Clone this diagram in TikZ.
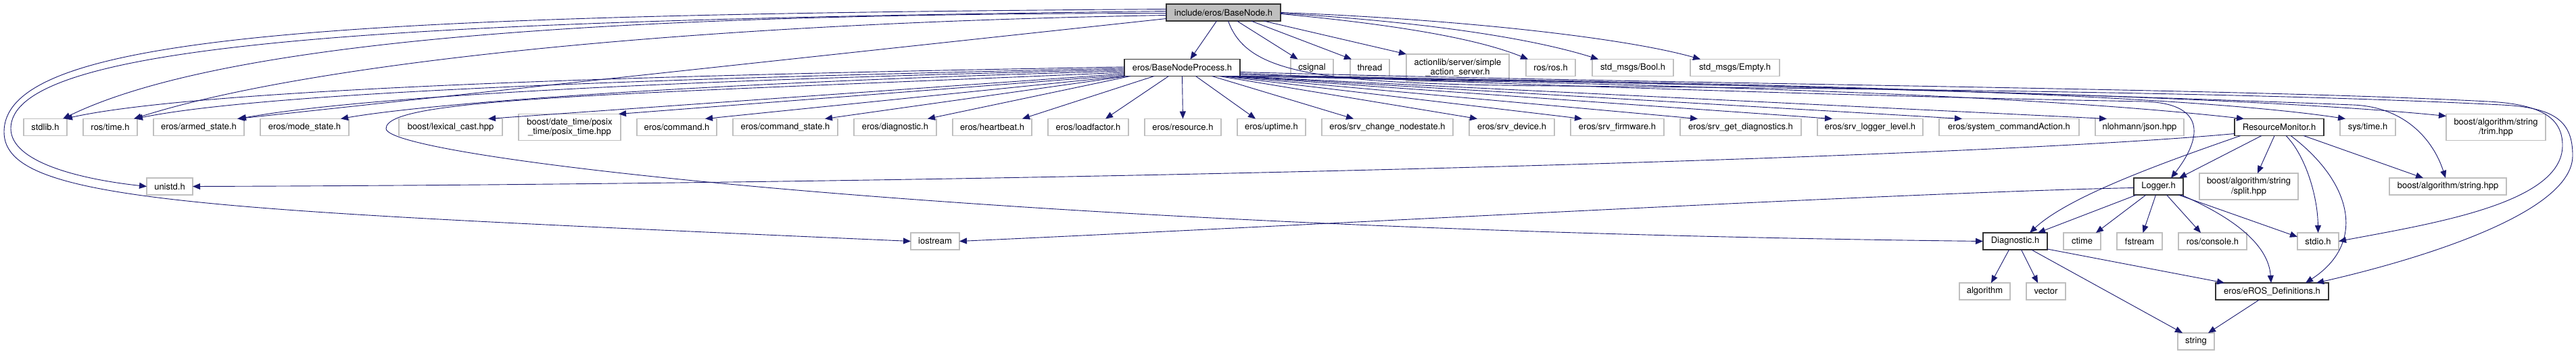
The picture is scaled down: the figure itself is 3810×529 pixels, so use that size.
\documentclass[tikz,border=0pt]{standalone}
\usepackage{fontspec}
\setmainfont{TeX Gyre Heros}
\usepackage{xcolor}
\usepackage{tikz}
\usetikzlibrary{arrows.meta,positioning}
\definecolor{midnightblue}{HTML}{191970}
\definecolor{grey75}{HTML}{BFBFBF}

\begin{document}
\begin{tikzpicture}[x=1pt, y=-1pt, node distance=24pt,
    hdr/.style={rectangle, draw=grey75, line width=1.2pt, fill=white, minimum height=25pt, inner xsep=0pt, inner ysep=0pt, outer sep=0pt, align=center, font=\fontsize{13}{14.5}\selectfont},
    docfile/.style={hdr, draw=black!80, line width=1.4pt},
    rootfile/.style={docfile, fill=grey75},
    arrow/.style={draw=midnightblue, line width=0.9pt, -{Triangle[length=11pt, width=9pt]}}
]
    \path[use as bounding box, fill=white] (0,0) rectangle (3810,529);

    % Nodes (top)
    \node[rootfile, minimum width=169pt] (base) at (1809.5,18.5) {include/eros/BaseNode.h};
    \node[docfile, minimum width=171pt] (proc) at (1748.5,100) {eros/BaseNodeProcess.h};
    \node[hdr, minimum width=63pt, right=75pt of proc] (csig) {csignal};
    \node[hdr, minimum width=58pt, right=25pt of csig] (thrd) {thread};
    \node[hdr, minimum width=152pt, minimum height=40pt, right=25pt of thrd] (actsrv) {actionlib/server/simple\\\_action\_server.h};
    \node[hdr, minimum width=73pt, right=25pt of actsrv] (rosros) {ros/ros.h};
    \node[hdr, minimum width=120pt, right=25pt of rosros] (boolh) {std\_msgs/Bool.h};
    \node[hdr, minimum width=132pt, right=25pt of boolh] (emptyh) {std\_msgs/Empty.h};

    % Nodes (headers of BaseNodeProcess)
    \node[hdr, minimum width=64pt] (stdlib) at (67,188) {stdlib.h};
    \node[hdr, minimum width=80pt, right=of stdlib] (rostime) {ros/time.h};
    \node[hdr, minimum width=134pt, right=of rostime] (armed) {eros/armed\_state.h};
    \node[hdr, minimum width=131pt, right=of armed] (mode) {eros/mode\_state.h};
    \node[hdr, minimum width=153pt, right=74pt of mode] (lexical) {boost/lexical\_cast.hpp};
    \node[hdr, minimum width=151pt, minimum height=39pt, right=of lexical] (posix) {boost/date\_time/posix\\\_time/posix\_time.hpp};
    \node[hdr, minimum width=118pt, right=of posix] (command) {eros/command.h};
    \node[hdr, minimum width=155pt, right=of command] (cmdstate) {eros/command\_state.h};
    \node[hdr, minimum width=122pt, right=of cmdstate] (diag) {eros/diagnostic.h};
    \node[hdr, minimum width=117pt, right=of diag] (heartb) {eros/heartbeat.h};
    \node[hdr, minimum width=119pt, right=of heartb] (loadf) {eros/loadfactor.h};
    \node[hdr, minimum width=113pt, right=of loadf] (resrc) {eros/resource.h};
    \node[hdr, minimum width=101pt, right=of resrc] (uptime) {eros/uptime.h};
    \node[hdr, minimum width=194pt, right=of uptime] (chgnode) {eros/srv\_change\_nodestate.h};
    \node[hdr, minimum width=126pt, right=of chgnode] (device) {eros/srv\_device.h};
    \node[hdr, minimum width=138pt, right=of device] (firmw) {eros/srv\_firmware.h};
    \node[hdr, minimum width=179pt, right=of firmw] (getdiag) {eros/srv\_get\_diagnostics.h};
    \node[hdr, minimum width=156pt, right=of getdiag] (loglvl) {eros/srv\_logger\_level.h};
    \node[hdr, minimum width=207pt, right=of loglvl] (syscmd) {eros/system\_commandAction.h};
    \node[hdr, minimum width=131pt, right=of syscmd] (json) {nlohmann/json.hpp};
    \node[docfile, minimum width=132pt, right=75pt of json] (resmon) {ResourceMonitor.h};
    \node[hdr, minimum width=82pt, right=of resmon] (systime) {sys/time.h};
    \node[hdr, minimum width=147pt, minimum height=39pt, right=75pt of systime] (trim) {boost/algorithm/string\\/trim.hpp};

    % Nodes (lower rows)
    \node[hdr, minimum width=68pt] (unistd) at (251,275.5) {unistd.h};
    \node[docfile, minimum width=73pt] (logger) at (3192.5,275.5) {Logger.h};
    \node[hdr, minimum width=146pt, minimum height=39pt, right=of logger] (split) {boost/algorithm/string\\/split.hpp};
    \node[hdr, minimum width=173pt, right=135pt of split] (strhpp) {boost/algorithm/string.hpp};
    \node[hdr, minimum width=72pt] (iostream) at (1383,356.5) {iostream};
    \node[docfile, minimum width=95pt] (diagnostic) at (2980.5,356.5) {Diagnostic.h};
    \node[hdr, minimum width=55pt, right=of diagnostic] (ctime) {ctime};
    \node[hdr, minimum width=67pt, right=of ctime] (fstream) {fstream};
    \node[hdr, minimum width=101pt, right=of fstream] (console) {ros/console.h};
    \node[hdr, minimum width=61pt, right=75pt of console] (stdio) {stdio.h};
    \node[hdr, minimum width=75pt] (algo) at (2935.5,430.5) {algorithm};
    \node[hdr, minimum width=58pt, right=of algo] (vector) {vector};
    \node[docfile, minimum width=167pt, right=222pt of vector] (eros) {eros/eROS\_Definitions.h};
    \node[hdr, minimum width=54pt] (strg) at (3248,504.5) {string};

    % Arrows from BaseNode.h
    \draw[arrow] ([xshift=-10pt]base.south) -- ([xshift=12pt]proc.north);
    \draw[arrow] ([xshift=20pt]base.south) -- ([xshift=-21pt]csig.north);
    \draw[arrow] ([xshift=41pt]base.south) -- ([xshift=2pt]thrd.north west);
    \draw[arrow] ([xshift=-25pt]base.south east) -- (actsrv.north west);
    \draw[arrow] ([yshift=-2pt]base.east) .. controls (2050,35) and (2180,55) .. ([xshift=3pt]rosros.north west);
    \draw[arrow] ([yshift=-1pt]base.east) .. controls (2100,32) and (2260,55) .. ([xshift=9pt]boolh.north west);
    \draw[arrow] (base.east) .. controls (2150,28) and (2400,55) .. ([xshift=15pt]emptyh.north west);
    \draw[arrow] ([yshift=-9pt]base.west) -- ([xshift=-10pt]armed.north east);
    \draw[arrow] ([yshift=-4pt]base.west) .. controls (1000,35) and (450,95) .. ([xshift=-5pt]rostime.north east);
    \draw[arrow] ([yshift=-1pt]base.west) .. controls (900,20) and (330,60) .. ([xshift=-6pt]stdlib.north east);
    \draw[arrow] ([yshift=2pt]base.west) .. controls (600,30) and (16,60) .. (16,190)
        .. controls (16,240) and (120,265) .. (unistd.west);
    \draw[arrow] ([yshift=5pt]base.west) .. controls (500,22) and (6,50) .. (6,195)
        .. controls (6,300) and (300,310) .. (iostream.west);
    \draw[arrow] ([xshift=7pt]base.south) .. controls (1845,110) and (1950,124) .. (2300,127)
        .. controls (3000,133) and (3400,140) .. (3700,155)
        .. controls (3780,159) and (3805,180) .. (3805,230)
        .. controls (3805,320) and (3550,390) .. ([xshift=-18pt]eros.north east);

    % Arrows from BaseNodeProcess.h
    \draw[arrow] ([yshift=1pt]proc.west) .. controls (1000,110) and (300,130) .. ([xshift=-3pt]stdlib.north east);
    \draw[arrow] ([yshift=-1pt]proc.west) .. controls (1000,115) and (400,135) .. ([xshift=-3pt]rostime.north east);
    \draw[arrow] ([yshift=-3pt]proc.west) .. controls (1050,117) and (550,140) .. ([xshift=-8pt]armed.north east);
    \draw[arrow] ([yshift=-5pt]proc.west) .. controls (1100,120) and (650,150) .. ([xshift=-12pt]mode.north east);
    \draw[arrow] ([yshift=-7pt]proc.west) .. controls (900,140) and (571,145) .. (571,190)
        .. controls (571,235) and (1500,340) .. (diagnostic.west);
    \draw[arrow] ([yshift=-9pt]proc.west) -- ([xshift=-21pt]lexical.north east);
    \draw[arrow] ([yshift=-11pt]proc.west) -- ([xshift=-3pt]posix.north east);
    \draw[arrow] (proc.south west) -- ([xshift=-17pt]command.north east);
    \draw[arrow] ([xshift=4pt]proc.south west) -- ([xshift=-19pt]cmdstate.north east);
    \draw[arrow] ([xshift=9pt]proc.south west) -- ([xshift=-13pt]diag.north east);
    \draw[arrow] ([xshift=44pt]proc.south west) -- ([xshift=-14pt]heartb.north east);
    \draw[arrow] ([xshift=-20pt]proc.south) -- ([xshift=-34pt]loadf.north east);
    \draw[arrow] (proc.south) -- (resrc.north);
    \draw[arrow] ([xshift=20pt]proc.south) -- ([xshift=27pt]uptime.north west);
    \draw[arrow] ([xshift=44pt]proc.south) -- ([xshift=47pt]chgnode.north west);
    \draw[arrow] ([xshift=-31pt]proc.south east) -- ([xshift=12pt]device.north west);
    \draw[arrow] ([xshift=-26pt]proc.south east) -- ([xshift=17pt]firmw.north west);
    \draw[arrow] ([xshift=-21pt]proc.south east) -- ([xshift=26pt]getdiag.north west);
    \draw[arrow] ([xshift=-16pt]proc.south east) -- ([xshift=22pt]loglvl.north west);
    \draw[arrow] ([xshift=-12pt]proc.south east) -- ([xshift=34pt]syscmd.north west);
    \draw[arrow] ([xshift=-8pt]proc.south east) -- ([xshift=17pt]json.north west);
    \draw[arrow] ([xshift=-5pt]proc.south east) .. controls (2500,125) and (3000,140) .. ([xshift=14pt]resmon.north west);
    \draw[arrow] ([xshift=-2pt]proc.south east) .. controls (2500,120) and (3200,135) .. ([xshift=8pt]systime.north west);
    \draw[arrow] (proc.south east) .. controls (2600,125) and (3300,140) .. ([yshift=-3pt]trim.north west);
    \draw[arrow] ([yshift=2pt]proc.south east) .. controls (2600,125) and (3100,140) .. (3480,155)
        .. controls (3560,158) and (3600,210) .. ([xshift=83pt]strhpp.north west);
    \draw[arrow] ([yshift=4pt]proc.south east) .. controls (2500,135) and (2900,145) .. (3170,150)
        .. controls (3260,152) and (3260,200) .. ([xshift=-18pt]logger.north east);
    \draw[arrow] ([yshift=6pt]proc.south east) .. controls (2500,125) and (3300,130) .. (3680,150)
        .. controls (3760,154) and (3790,175) .. (3790,215)
        .. controls (3790,300) and (3600,330) .. (stdio.east);

    % Arrows from ResourceMonitor.h
    \draw[arrow] ([yshift=3pt]resmon.south west) .. controls (2900,235) and (1500,272) .. (unistd.east);
    \draw[arrow] ([xshift=9pt]resmon.south west) .. controls (3200,240) and (3060,290) .. ([xshift=-26pt]diagnostic.north east);
    \draw[arrow] ([xshift=40pt]resmon.south west) -- ([xshift=-6pt]logger.north east);
    \draw[arrow] ([xshift=-7pt]resmon.south) -- ([xshift=13pt]split.north);
    \draw[arrow] ([xshift=10pt]resmon.south) .. controls (3410,230) and (3428,290) .. (stdio.north);
    \draw[arrow] ([xshift=17pt]resmon.south) .. controls (3480,270) and (3500,360) .. ([xshift=-34pt]eros.north east);
    \draw[arrow] ([xshift=-30pt]resmon.south east) -- ([xshift=50pt]strhpp.north west);

    % Arrows from Logger.h
    \draw[arrow] ([yshift=-2pt]logger.west) .. controls (2800,285) and (2000,330) .. (iostream.east);
    \draw[arrow] ([xshift=4pt]logger.south west) -- ([xshift=-14pt]diagnostic.north east);
    \draw[arrow] ([xshift=18pt]logger.south west) -- ([xshift=-7pt]ctime.north east);
    \draw[arrow] ([xshift=-4pt]logger.south) -- ([xshift=5pt]fstream.north);
    \draw[arrow] ([xshift=12pt]logger.south) -- ([xshift=33pt]console.north west);
    \draw[arrow] ([xshift=-7pt]logger.south east) -- ([yshift=-6pt]stdio.north west);
    \draw[arrow] ([xshift=-3pt]logger.south east) .. controls (3300,320) and (3355,360) .. ([xshift=82pt]eros.north west);

    % Arrows from Diagnostic.h and eROS_Definitions.h
    \draw[arrow] ([xshift=-9pt]diagnostic.south) -- ([xshift=-28pt]algo.north east);
    \draw[arrow] ([xshift=9pt]diagnostic.south) -- ([xshift=-12pt]vector.north);
    \draw[arrow] ([xshift=24pt]diagnostic.south) -- ([xshift=-20pt]strg.north);
    \draw[arrow] ([yshift=1pt]diagnostic.south east) -- ([xshift=13pt]eros.north west);
    \draw[arrow] ([xshift=-19pt]eros.south) -- ([xshift=18pt]strg.north);
\end{tikzpicture}
\end{document}
